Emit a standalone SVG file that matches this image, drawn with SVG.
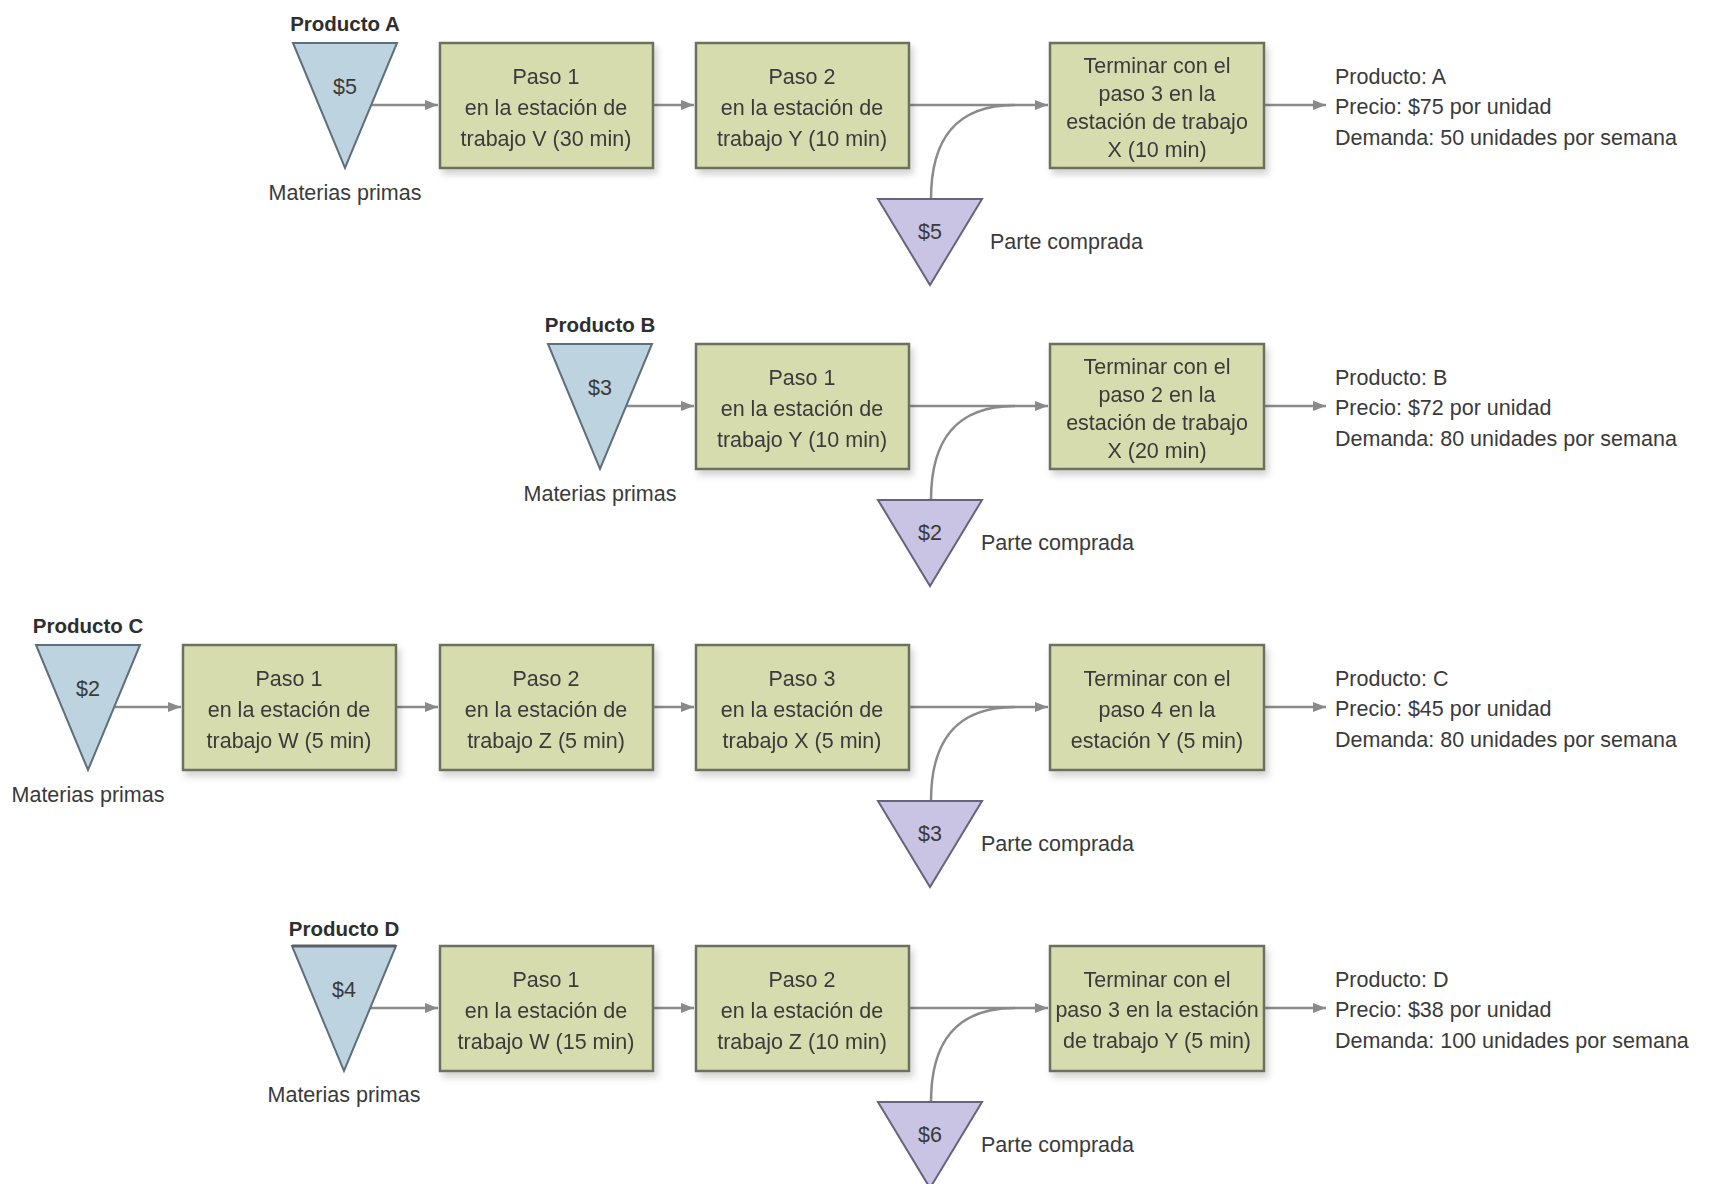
<svg xmlns="http://www.w3.org/2000/svg" width="1711" height="1184" viewBox="0 0 1711 1184">
<defs>
<style>
text{font-family:"Liberation Sans",Arial,sans-serif;font-size:21.5px;fill:#3a3a3a}
.c{text-anchor:middle}
.b{font-weight:bold;font-size:20.5px;fill:#2e2e2e}
.box{fill:#d6dcae;stroke:#6c6f5e;stroke-width:2.5}
.raw{fill:#bdd3e0;stroke:#5e6f7b;stroke-width:2}
.buy{fill:#c9c4e4;stroke:#67637d;stroke-width:2}
.ln{fill:none;stroke:#8a8a8a;stroke-width:2.5}
</style>
<marker id="ah" markerUnits="userSpaceOnUse" markerWidth="14" markerHeight="12" refX="13" refY="6" orient="auto">
<path d="M0,1 L13,6 L0,11 z" fill="#8a8a8a"/>
</marker>
<filter id="sh" x="-10%" y="-10%" width="125%" height="130%">
<feDropShadow dx="3" dy="5" stdDeviation="3.5" flood-color="#000" flood-opacity="0.18"/>
</filter>
</defs>
<rect width="1711" height="1184" fill="#ffffff"/>

<g id="connectors">
<!-- Row A -->
<path class="ln" d="M371,105 L438,105" marker-end="url(#ah)"/>
<path class="ln" d="M653,105 L694,105" marker-end="url(#ah)"/>
<path class="ln" d="M909,105 L1048,105" marker-end="url(#ah)"/>
<path class="ln" d="M931,199 C931,140 955,105 1015,105"/>
<path class="ln" d="M1264,105 L1326,105" marker-end="url(#ah)"/>
<!-- Row B -->
<path class="ln" d="M626,406 L694,406" marker-end="url(#ah)"/>
<path class="ln" d="M909,406 L1048,406" marker-end="url(#ah)"/>
<path class="ln" d="M931,500 C931,441 955,406 1015,406"/>
<path class="ln" d="M1264,406 L1326,406" marker-end="url(#ah)"/>
<!-- Row C -->
<path class="ln" d="M114,707 L181,707" marker-end="url(#ah)"/>
<path class="ln" d="M396,707 L438,707" marker-end="url(#ah)"/>
<path class="ln" d="M653,707 L694,707" marker-end="url(#ah)"/>
<path class="ln" d="M909,707 L1048,707" marker-end="url(#ah)"/>
<path class="ln" d="M931,801 C931,742 955,707 1015,707"/>
<path class="ln" d="M1264,707 L1326,707" marker-end="url(#ah)"/>
<!-- Row D -->
<path class="ln" d="M370,1008 L438,1008" marker-end="url(#ah)"/>
<path class="ln" d="M653,1008 L694,1008" marker-end="url(#ah)"/>
<path class="ln" d="M909,1008 L1048,1008" marker-end="url(#ah)"/>
<path class="ln" d="M931,1102 C931,1043 955,1008 1015,1008"/>
<path class="ln" d="M1264,1008 L1326,1008" marker-end="url(#ah)"/>
</g>

<!-- ===== Row A ===== -->
<g id="rawA">
<text class="c b" x="345" y="31">Producto A</text>
<polygon class="raw" points="293,43 397,43 345,168"/>
<text class="c" x="345" y="94">$5</text>
<text class="c" x="345" y="200">Materias primas</text>
</g>
<g id="A1" filter="url(#sh)">
<rect class="box" x="440" y="43" width="213" height="125"/>
<text class="c" x="546" y="84">Paso 1</text>
<text class="c" x="546" y="115">en la estación de</text>
<text class="c" x="546" y="146">trabajo V (30 min)</text>
</g>
<g id="A2" filter="url(#sh)">
<rect class="box" x="696" y="43" width="213" height="125"/>
<text class="c" x="802" y="84">Paso 2</text>
<text class="c" x="802" y="115">en la estación de</text>
<text class="c" x="802" y="146">trabajo Y (10 min)</text>
</g>
<g id="A3" filter="url(#sh)">
<rect class="box" x="1050" y="43" width="214" height="125"/>
<text class="c" x="1157" y="73">Terminar con el</text>
<text class="c" x="1157" y="101">paso 3 en la</text>
<text class="c" x="1157" y="129">estación de trabajo</text>
<text class="c" x="1157" y="157">X (10 min)</text>
</g>
<g id="buyA">
<polygon class="buy" points="878,199 982,199 930,285"/>
<text class="c" x="930" y="239">$5</text>
<text x="990" y="249">Parte comprada</text>
</g>
<g id="infoA">
<text x="1335" y="84">Producto: A</text>
<text x="1335" y="114">Precio: $75 por unidad</text>
<text x="1335" y="145">Demanda: 50 unidades por semana</text>
</g>

<!-- ===== Row B ===== -->
<g id="rawB">
<text class="c b" x="600" y="332">Producto B</text>
<polygon class="raw" points="548,344 652,344 600,469"/>
<text class="c" x="600" y="395">$3</text>
<text class="c" x="600" y="501">Materias primas</text>
</g>
<g id="B1" filter="url(#sh)">
<rect class="box" x="696" y="344" width="213" height="125"/>
<text class="c" x="802" y="385">Paso 1</text>
<text class="c" x="802" y="416">en la estación de</text>
<text class="c" x="802" y="447">trabajo Y (10 min)</text>
</g>
<g id="B2" filter="url(#sh)">
<rect class="box" x="1050" y="344" width="214" height="125"/>
<text class="c" x="1157" y="374">Terminar con el</text>
<text class="c" x="1157" y="402">paso 2 en la</text>
<text class="c" x="1157" y="430">estación de trabajo</text>
<text class="c" x="1157" y="458">X (20 min)</text>
</g>
<g id="buyB">
<polygon class="buy" points="878,500 982,500 930,586"/>
<text class="c" x="930" y="540">$2</text>
<text x="981" y="550">Parte comprada</text>
</g>
<g id="infoB">
<text x="1335" y="385">Producto: B</text>
<text x="1335" y="415">Precio: $72 por unidad</text>
<text x="1335" y="446">Demanda: 80 unidades por semana</text>
</g>

<!-- ===== Row C ===== -->
<g id="rawC">
<text class="c b" x="88" y="633">Producto C</text>
<polygon class="raw" points="36,645 140,645 88,770"/>
<text class="c" x="88" y="696">$2</text>
<text class="c" x="88" y="802">Materias primas</text>
</g>
<g id="C1" filter="url(#sh)">
<rect class="box" x="183" y="645" width="213" height="125"/>
<text class="c" x="289" y="686">Paso 1</text>
<text class="c" x="289" y="717">en la estación de</text>
<text class="c" x="289" y="748">trabajo W (5 min)</text>
</g>
<g id="C2" filter="url(#sh)">
<rect class="box" x="440" y="645" width="213" height="125"/>
<text class="c" x="546" y="686">Paso 2</text>
<text class="c" x="546" y="717">en la estación de</text>
<text class="c" x="546" y="748">trabajo Z (5 min)</text>
</g>
<g id="C3" filter="url(#sh)">
<rect class="box" x="696" y="645" width="213" height="125"/>
<text class="c" x="802" y="686">Paso 3</text>
<text class="c" x="802" y="717">en la estación de</text>
<text class="c" x="802" y="748">trabajo X (5 min)</text>
</g>
<g id="C4" filter="url(#sh)">
<rect class="box" x="1050" y="645" width="214" height="125"/>
<text class="c" x="1157" y="686">Terminar con el</text>
<text class="c" x="1157" y="717">paso 4 en la</text>
<text class="c" x="1157" y="748">estación Y (5 min)</text>
</g>
<g id="buyC">
<polygon class="buy" points="878,801 982,801 930,887"/>
<text class="c" x="930" y="841">$3</text>
<text x="981" y="851">Parte comprada</text>
</g>
<g id="infoC">
<text x="1335" y="686">Producto: C</text>
<text x="1335" y="716">Precio: $45 por unidad</text>
<text x="1335" y="747">Demanda: 80 unidades por semana</text>
</g>

<!-- ===== Row D ===== -->
<g id="rawD">
<text class="c b" x="344" y="936">Producto D</text>
<polygon class="raw" points="292,946 396,946 344,1071"/>
<line x1="292" y1="946" x2="396" y2="946" stroke="#5a5f66" stroke-width="3"/>
<text class="c" x="344" y="997">$4</text>
<text class="c" x="344" y="1102">Materias primas</text>
</g>
<g id="D1" filter="url(#sh)">
<rect class="box" x="440" y="946" width="213" height="125"/>
<text class="c" x="546" y="987">Paso 1</text>
<text class="c" x="546" y="1018">en la estación de</text>
<text class="c" x="546" y="1049">trabajo W (15 min)</text>
</g>
<g id="D2" filter="url(#sh)">
<rect class="box" x="696" y="946" width="213" height="125"/>
<text class="c" x="802" y="987">Paso 2</text>
<text class="c" x="802" y="1018">en la estación de</text>
<text class="c" x="802" y="1049">trabajo Z (10 min)</text>
</g>
<g id="D3" filter="url(#sh)">
<rect class="box" x="1050" y="946" width="214" height="125"/>
<text class="c" x="1157" y="987">Terminar con el</text>
<text class="c" x="1157" y="1017">paso 3 en la estación</text>
<text class="c" x="1157" y="1048">de trabajo Y (5 min)</text>
</g>
<g id="buyD">
<polygon class="buy" points="878,1102 982,1102 930,1188"/>
<text class="c" x="930" y="1142">$6</text>
<text x="981" y="1152">Parte comprada</text>
</g>
<g id="infoD">
<text x="1335" y="987">Producto: D</text>
<text x="1335" y="1017">Precio: $38 por unidad</text>
<text x="1335" y="1048">Demanda: 100 unidades por semana</text>
</g>
</svg>
